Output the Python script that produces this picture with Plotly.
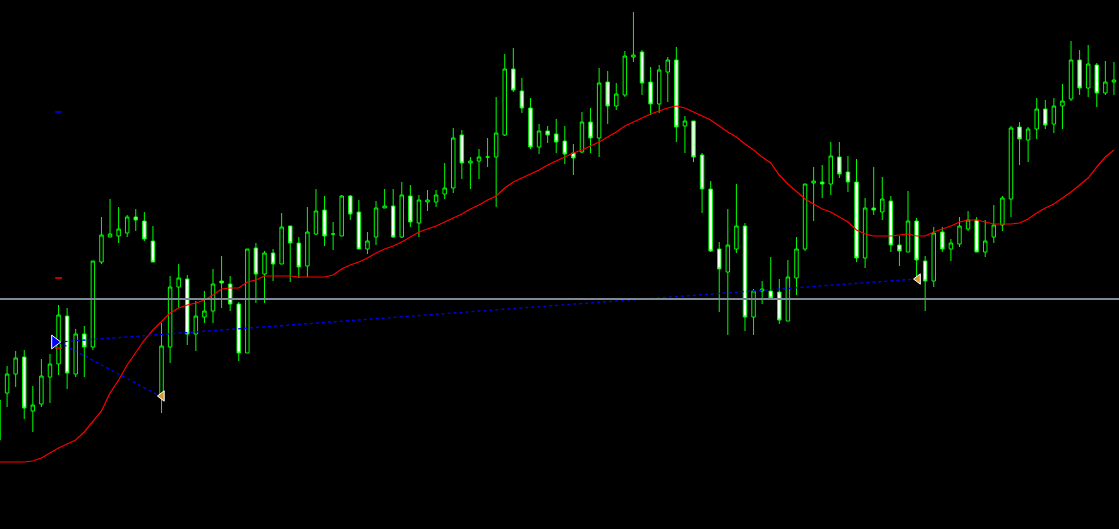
import plotly.graph_objects as go

# ---- candle data (price units) ----
open_ = [155.60,156.07,156.26,156.43,155.89,155.96,156.23,156.36,156.84,156.26,
         156.66,156.53,157.38,157.63,157.64,157.67,157.83,157.79,157.59,156.03,
         156.53,157.13,157.21,156.66,156.83,156.89,157.19,157.16,156.96,156.47,
         157.52,157.26,157.47,157.36,157.74,157.57,157.34,157.66,157.90,157.66,
         157.64,158.04,157.88,157.51,157.63,157.92,157.94,157.63,158.04,157.77,
         157.98,157.98,158.06,158.12,158.65,158.37,158.39,158.43,158.43,158.65,
         159.31,159.09,158.92,158.53,158.69,158.66,158.59,158.47,158.48,158.78,
         158.62,159.18,158.94,159.05,159.43,159.48,159.18,158.96,159.28,159.40,
         158.74,158.79,158.45,158.11,157.51,157.28,157.51,157.74,156.83,157.09,
         157.09,157.08,156.79,157.22,157.51,158.17,158.18,158.16,158.43,158.28,
         158.18,157.42,157.92,157.88,157.99,157.55,157.48,157.79,157.39,157.19,
         157.68,157.51,157.56,157.71,157.80,157.48,157.63,157.75,158.01,158.73,
         158.60,158.71,158.91,158.76,158.94,159.01,159.40,159.12,159.35,159.07,
         159.18]
high = [156.07,156.34,156.49,156.50,156.14,156.41,156.46,156.95,156.92,156.71,
        156.74,157.39,157.83,158.01,157.93,157.85,157.91,157.88,157.74,156.77,
        157.24,157.36,157.25,156.99,157.09,157.31,157.44,157.24,156.98,157.51,
        157.57,157.49,157.51,157.87,157.74,157.63,157.93,158.11,158.04,157.78,
        158.05,158.05,158.00,157.68,157.99,158.11,158.11,158.18,158.15,158.05,
        158.10,158.10,158.37,158.72,158.70,158.43,158.51,158.62,159.03,159.46,
        159.52,159.22,159.02,158.76,158.74,158.81,158.74,158.56,158.88,158.92,
        159.32,159.29,159.17,159.49,159.88,159.50,159.33,159.35,159.43,159.53,
        158.84,158.79,158.47,158.19,157.58,157.91,158.16,157.77,157.11,157.19,
        157.43,157.21,157.40,157.63,158.16,158.33,158.35,158.58,158.58,158.44,
        158.41,158.02,158.33,158.23,158.04,157.64,158.09,157.82,157.44,157.73,
        157.73,157.61,157.83,157.89,157.83,157.80,157.95,158.04,158.74,158.78,
        158.73,159.02,159.00,159.02,159.16,159.59,159.50,159.55,159.37,159.39,
        159.38]
low = [155.55,155.93,156.13,155.81,155.68,155.93,155.97,156.25,156.11,156.23,
       156.23,156.50,157.36,157.63,157.57,157.63,157.69,157.59,157.38,155.87,
       156.37,156.92,156.55,156.49,156.77,156.77,156.92,156.89,156.39,156.47,
       156.97,156.97,157.19,157.36,157.18,157.22,157.23,157.65,157.54,157.50,
       157.64,157.80,157.51,157.46,157.55,157.92,157.62,157.62,157.73,157.63,
       157.89,157.93,158.01,158.07,158.21,158.11,158.21,158.33,157.93,158.64,
       159.08,158.87,158.51,158.46,158.57,158.47,158.36,158.25,158.47,158.47,
       158.43,158.76,158.90,159.03,159.38,159.05,158.85,158.87,158.98,158.58,
       158.47,158.38,157.87,157.48,156.88,156.65,157.47,156.69,156.65,156.96,
       157.02,156.76,156.79,157.05,157.49,157.79,158.02,158.05,158.22,158.08,
       157.38,157.32,157.85,157.80,157.48,157.34,157.48,157.22,156.89,157.13,
       157.48,157.39,157.53,157.69,157.48,157.43,157.57,157.69,157.83,158.35,
       158.38,158.61,158.71,158.67,158.71,158.99,159.05,159.03,158.93,159.05,
       159.05]
close = [156.00,156.26,156.42,155.92,155.95,156.24,156.36,156.85,156.27,156.66,
         156.53,157.39,157.65,157.66,157.71,157.83,157.80,157.61,157.38,156.54,
         157.13,157.22,156.66,156.84,156.89,157.16,157.17,156.96,156.47,157.51,
         157.26,157.47,157.36,157.73,157.57,157.33,157.68,157.89,157.64,157.66,
         158.04,157.86,157.51,157.59,157.92,157.94,157.63,158.05,157.78,158.00,
         158.00,158.05,158.12,158.62,158.37,158.39,158.43,158.43,158.67,159.31,
         159.10,158.92,158.53,158.69,158.65,158.58,158.46,158.42,158.78,158.62,
         159.17,158.94,159.06,159.44,159.45,159.17,158.96,159.30,159.40,158.73,
         158.79,158.43,158.11,157.49,157.31,157.55,157.74,156.83,157.09,157.11,
         157.02,156.80,157.23,157.51,158.16,158.19,158.16,158.44,158.26,158.18,
         157.42,157.92,157.90,158.01,157.55,157.49,157.79,157.40,157.19,157.67,
         157.51,157.57,157.74,157.80,157.48,157.59,157.75,158.02,158.72,158.61,
         158.71,158.91,158.75,158.94,158.99,159.40,159.12,159.36,159.07,159.18,
         159.20]

# ---- moving average (red line) ----
ma = [155.38,155.38,155.38,155.38,155.39,155.42,155.47,155.52,155.56,155.60,
      155.68,155.78,155.89,156.07,156.20,156.35,156.48,156.60,156.70,156.78,
      156.87,156.92,156.95,156.97,157.00,157.05,157.11,157.12,157.12,157.18,
      157.20,157.24,157.24,157.24,157.24,157.23,157.23,157.23,157.23,157.25,
      157.31,157.35,157.38,157.42,157.47,157.51,157.54,157.58,157.63,157.68,
      157.71,157.74,157.78,157.82,157.86,157.91,157.95,158.00,158.04,158.12,
      158.18,158.22,158.26,158.30,158.35,158.39,158.43,158.47,158.50,158.54,
      158.58,158.63,158.68,158.74,158.78,158.82,158.86,158.89,158.92,158.94,
      158.92,158.88,158.84,158.80,158.74,158.68,158.63,158.56,158.50,158.43,
      158.37,158.25,158.16,158.08,158.01,157.96,157.91,157.88,157.83,157.78,
      157.70,157.66,157.64,157.64,157.64,157.65,157.66,157.64,157.64,157.68,
      157.71,157.74,157.78,157.80,157.80,157.78,157.76,157.76,157.76,157.77,
      157.81,157.87,157.92,157.96,158.02,158.08,158.15,158.22,158.33,158.43,
      158.50]

bars = list(range(len(close)))

# ---- objects ----
hline_price = 157.01
arrow_bar, arrow_price = 6.55, 156.58
tri_bars = [19.05, 107.17]
tri_prices = [156.04, 157.21]
line_start = (7.0, 156.58)
line_ends = [(18.8, 156.04), (106.9, 157.21)]
mark_bars = [6.6, 7.4]
blue_mark = 158.88
red_marks = [157.22, 156.52]

GREEN = "#00FF00"

fig = go.Figure()

fig.add_trace(go.Candlestick(
    x=bars, open=open_, high=high, low=low, close=close,
    increasing=dict(line=dict(color=GREEN, width=1), fillcolor="#000000"),
    decreasing=dict(line=dict(color=GREEN, width=1), fillcolor="#FFFFFF"),
    whiskerwidth=0, showlegend=False, hoverinfo="skip",
))

fig.add_trace(go.Scatter(x=bars, y=ma, mode="lines",
                         line=dict(color="#FF0000", width=1.2),
                         showlegend=False, hoverinfo="skip"))

for ex, ey in line_ends:
    fig.add_trace(go.Scatter(x=[line_start[0], ex], y=[line_start[1], ey],
                             mode="lines",
                             line=dict(color="#0000FF", width=1.3, dash="3px,3px"),
                             showlegend=False, hoverinfo="skip"))

fig.add_trace(go.Scatter(x=mark_bars, y=[blue_mark, blue_mark], mode="lines",
                         line=dict(color="#0000FF", width=1.5),
                         showlegend=False, hoverinfo="skip"))
for rp in red_marks:
    fig.add_trace(go.Scatter(x=mark_bars, y=[rp, rp], mode="lines",
                             line=dict(color="#FF0000", width=1.5),
                             showlegend=False, hoverinfo="skip"))

fig.add_trace(go.Scatter(x=[arrow_bar], y=[arrow_price], mode="markers",
                         marker=dict(symbol="triangle-right", size=12, color="#0000FF",
                                     line=dict(color="#FFFFFF", width=1)),
                         showlegend=False, hoverinfo="skip"))
fig.add_trace(go.Scatter(x=tri_bars, y=tri_prices, mode="markers",
                         marker=dict(symbol="triangle-left", size=9, color="#D99A30",
                                     line=dict(color="#FFFFFF", width=1)),
                         showlegend=False, hoverinfo="skip"))

fig.add_shape(type="line", xref="paper", x0=0, x1=1, yref="y",
              y0=hline_price, y1=hline_price,
              line=dict(color="#7E8A96", width=2), layer="above")

fig.update_layout(
    width=1119, height=529,
    margin=dict(l=0, r=0, t=0, b=0),
    paper_bgcolor="#000000", plot_bgcolor="#000000",
    boxgap=0.42,
    xaxis=dict(range=[0.175, 130.59], visible=False, rangeslider=dict(visible=False),
               showgrid=False, zeroline=False, fixedrange=True),
    yaxis=dict(range=[154.71, 160.0], visible=False, showgrid=False,
               zeroline=False, fixedrange=True),
    showlegend=False,
)

fig.write_html("out.html", include_plotlyjs=True, full_html=True,
               config={"displayModeBar": False},
               post_script="document.body.style.margin='0';document.body.style.background='#000';")
